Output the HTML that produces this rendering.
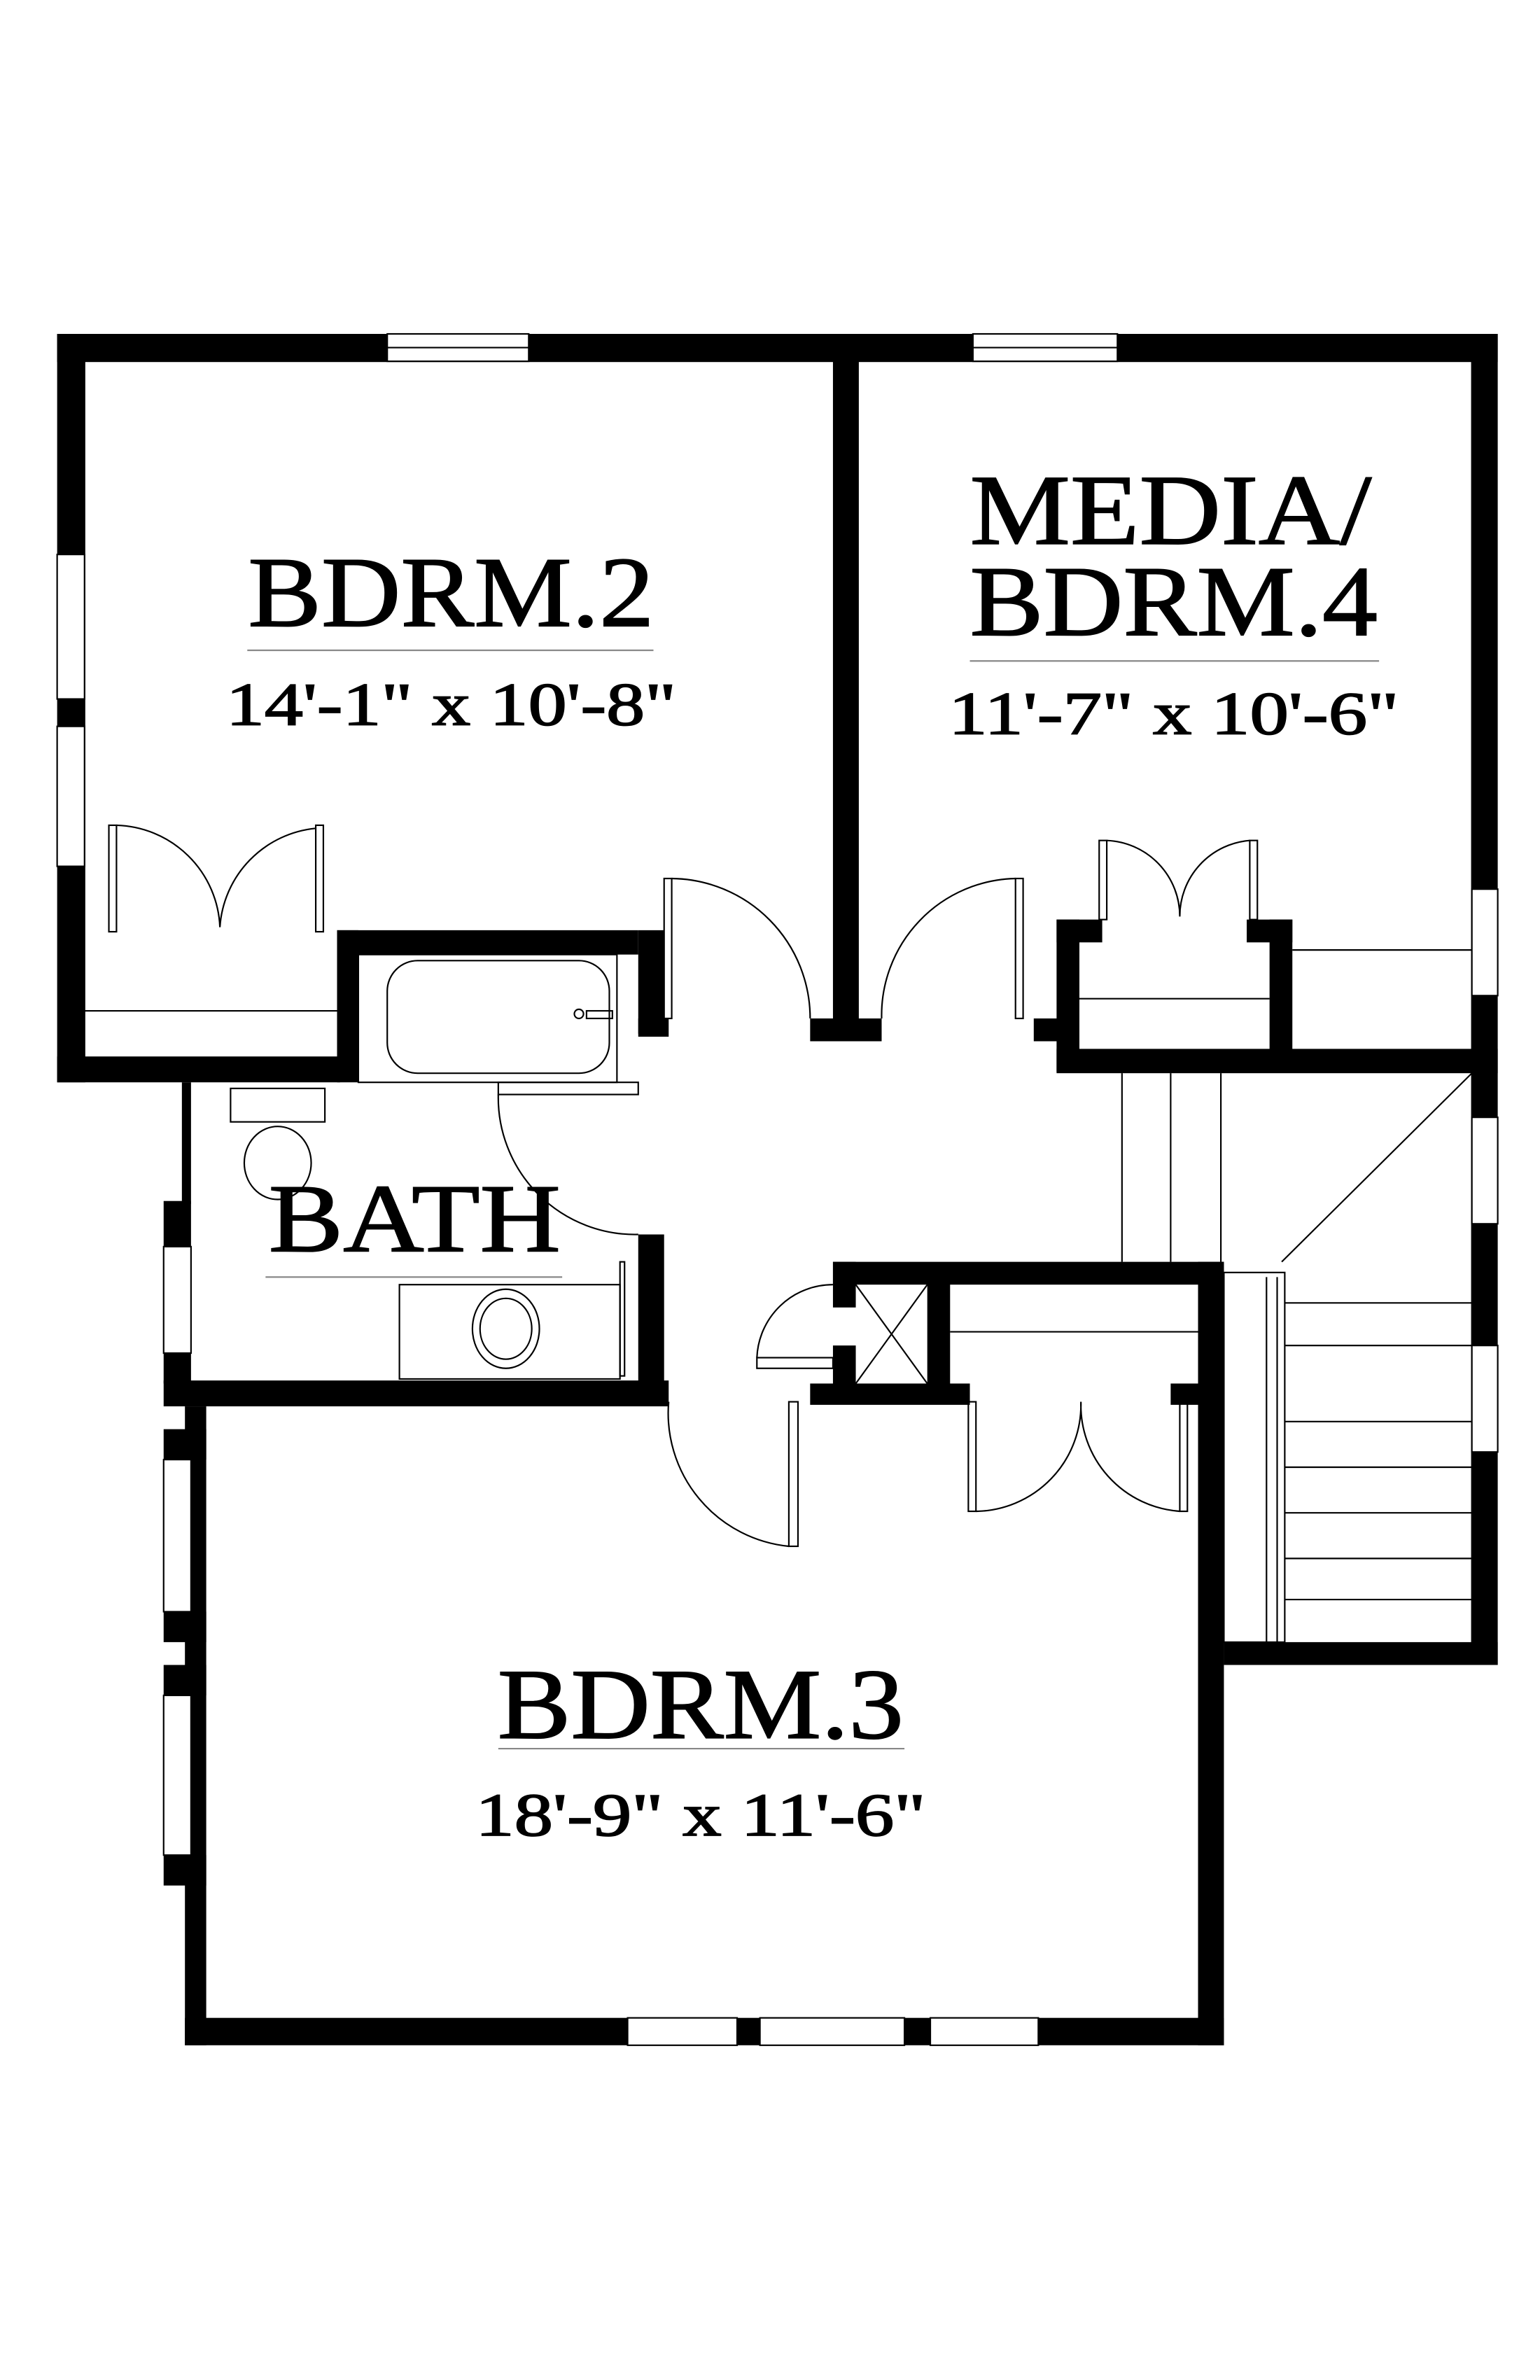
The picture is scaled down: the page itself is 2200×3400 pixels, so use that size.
<!DOCTYPE html>
<html><head><style>html,body{margin:0;padding:0;background:#fff}svg{display:block}</style></head><body>
<svg width="2200" height="3400" viewBox="0 0 1024 1582.5" xmlns="http://www.w3.org/2000/svg">
<rect width="1024" height="1583" fill="#fff"/>
<g transform="translate(38,222) scale(1.0115) translate(-38,-220)">
<g fill="#000">
<rect x="38" y="220" width="947" height="18.5"/>
<rect x="38" y="220" width="18.5" height="492"/>
<rect x="38" y="695" width="186" height="17"/>
<rect x="967.5" y="220" width="17.5" height="875"/>
<rect x="548" y="238" width="17" height="440"/>
<rect x="533" y="670" width="47" height="15"/>
<rect x="222" y="612" width="198" height="16"/>
<rect x="222" y="612" width="14" height="100"/>
<rect x="420" y="612" width="17" height="68"/>
<rect x="420" y="670" width="20" height="12"/>
<rect x="120" y="712" width="6" height="80"/>
<rect x="108" y="790" width="18" height="120"/>
<rect x="108" y="908" width="332" height="17"/>
<rect x="420" y="812" width="17" height="100"/>
<rect x="122" y="925" width="14" height="420"/>
<rect x="108" y="940" width="28" height="20"/>
<rect x="108" y="1060" width="28" height="20"/>
<rect x="108" y="1095" width="28" height="20"/>
<rect x="108" y="1220" width="28" height="20"/>
<rect x="122" y="1327" width="683" height="18"/>
<rect x="788" y="830" width="17" height="515"/>
<rect x="805" y="1080" width="180" height="15"/>
<rect x="548" y="830" width="257" height="15"/>
<rect x="548" y="830" width="15" height="30"/>
<rect x="548" y="885" width="15" height="30"/>
<rect x="610" y="840" width="15" height="80"/>
<rect x="533" y="910" width="105" height="14"/>
<rect x="770" y="910" width="35" height="14"/>
<rect x="695" y="605" width="15" height="100"/>
<rect x="695" y="605" width="30" height="15"/>
<rect x="680" y="670" width="30" height="15"/>
<rect x="835" y="605" width="15" height="95"/>
<rect x="820" y="605" width="30" height="15"/>
<rect x="695" y="690" width="290" height="16"/>
</g>
<g fill="#fff" stroke="#000" stroke-width="1">
<rect x="255" y="220" width="93" height="18"/>
<rect x="640" y="220" width="95" height="18"/>
<rect x="38" y="365" width="18" height="95"/>
<rect x="38" y="478" width="18" height="92"/>
<rect x="968" y="585" width="17" height="70"/>
<rect x="968" y="735" width="17" height="70"/>
<rect x="968" y="885" width="17" height="70"/>
<rect x="108" y="820" width="18" height="70"/>
<rect x="108" y="960" width="18" height="100"/>
<rect x="108" y="1115" width="18" height="105"/>
<rect x="413" y="1327" width="72" height="18"/>
<rect x="500" y="1327" width="95" height="18"/>
<rect x="612" y="1327" width="71" height="18"/>
</g>
<g fill="none" stroke="#000" stroke-width="1">
<line x1="255" y1="229" x2="348" y2="229"/><line x1="640" y1="229" x2="735" y2="229"/>
<line x1="56" y1="665" x2="222" y2="665"/>
<rect x="72" y="543" width="5" height="70"/><rect x="208" y="543" width="5" height="70"/>
<path d="M77 543 A70 70 0 0 1 145 610 A70 70 0 0 1 208 545"/>
<rect x="437" y="578" width="5" height="92"/>
<path d="M442 578 A92 92 0 0 1 533 670"/>
<rect x="668" y="578" width="5" height="92"/>
<path d="M668 578 A90 90 0 0 0 580 670"/>
<rect x="236" y="628" width="170" height="84"/>
<rect x="255" y="632" width="146" height="74" rx="20"/>
<circle cx="381" cy="667" r="3"/><rect x="386" y="665" width="17" height="5"/>
<rect x="328" y="712" width="92" height="8"/>
<path d="M328 720 A90 90 0 0 0 420 812"/>
<rect x="152" y="716" width="62" height="22"/>
<ellipse cx="183" cy="765" rx="22" ry="24"/>
<rect x="263" y="845" width="145" height="62"/>
<rect x="408" y="830" width="3" height="75"/>
<ellipse cx="333" cy="874" rx="22" ry="26"/><ellipse cx="333" cy="874" rx="17" ry="20"/>
<line x1="175" y1="840" x2="370" y2="840" stroke="#888"/>
<line x1="563" y1="845" x2="610" y2="910"/><line x1="610" y1="845" x2="563" y2="910"/>
<rect x="498" y="893" width="50" height="7"/>
<path d="M498 893 A50 50 0 0 1 548 845"/>
<rect x="519" y="922" width="6" height="95"/>
<path d="M440 922 A88 88 0 0 0 519 1017"/>
<line x1="625" y1="876" x2="788" y2="876"/>
<rect x="637" y="922" width="5" height="72"/><rect x="776" y="922" width="5" height="72"/>
<path d="M642 994 A70 70 0 0 0 711 922 A70 70 0 0 0 776 994"/>
<line x1="710" y1="657" x2="835" y2="657"/>
<rect x="723" y="553" width="5" height="52"/><rect x="822" y="553" width="5" height="52"/>
<path d="M728 553 A50 50 0 0 1 776 603 A50 50 0 0 1 822 553"/>
<line x1="850" y1="625" x2="968" y2="625"/>
<line x1="738" y1="706" x2="738" y2="830"/><line x1="770" y1="706" x2="770" y2="830"/>
<line x1="803" y1="706" x2="803" y2="830"/>
<line x1="968" y1="706" x2="843" y2="830"/>
<rect x="805" y="837" width="40" height="243"/>
<line x1="833" y1="840" x2="833" y2="1080"/><line x1="840" y1="840" x2="840" y2="1080"/>
<line x1="845" y1="857" x2="968" y2="857"/><line x1="845" y1="885" x2="968" y2="885"/>
<line x1="845" y1="935" x2="968" y2="935"/><line x1="845" y1="965" x2="968" y2="965"/>
<line x1="845" y1="995" x2="968" y2="995"/><line x1="845" y1="1025" x2="968" y2="1025"/>
<line x1="845" y1="1052" x2="968" y2="1052"/>
<line x1="163" y1="428" x2="430" y2="428" stroke="#888"/>
<line x1="638" y1="435" x2="907" y2="435" stroke="#888"/>
<line x1="328" y1="1150" x2="595" y2="1150" stroke="#888"/>
</g>
<g font-family="'Liberation Serif', serif" fill="#000" stroke="#000" stroke-width="0.8" text-anchor="middle">
<text x="297" y="412" font-size="66" textLength="267" lengthAdjust="spacingAndGlyphs">BDRM.2</text>
<text x="297" y="477" font-size="40" textLength="296" lengthAdjust="spacingAndGlyphs">14'-1" x 10'-8"</text>
<text x="770" y="358" font-size="66" textLength="264" lengthAdjust="spacingAndGlyphs">MEDIA/</text>
<text x="772" y="418" font-size="66" textLength="268" lengthAdjust="spacingAndGlyphs">BDRM.4</text>
<text x="772" y="483" font-size="40" textLength="296" lengthAdjust="spacingAndGlyphs">11'-7" x 10'-6"</text>
<text x="273" y="823" font-size="64" textLength="192" lengthAdjust="spacingAndGlyphs">BATH</text>
<text x="461" y="1143" font-size="66" textLength="267" lengthAdjust="spacingAndGlyphs">BDRM.3</text>
<text x="461" y="1207" font-size="40" textLength="296" lengthAdjust="spacingAndGlyphs">18'-9" x 11'-6"</text>
</g>
</g>
</svg>
</body></html>
